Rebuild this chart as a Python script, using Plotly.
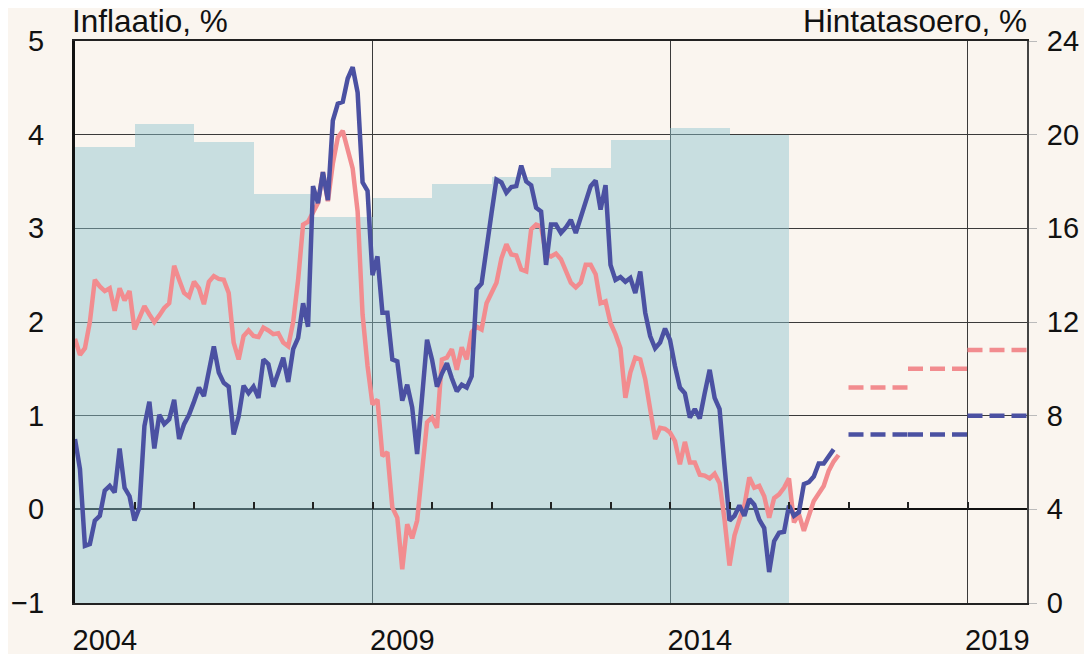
import plotly.graph_objects as go

# ---------------- data ----------------
start_year = 2004
# Finland HICP inflation, %, monthly from Jan 2004 (blue)
fi_inflation = [
    0.75, 0.43, -0.39, -0.37, -0.12, -0.07, 0.20, 0.25, 0.18, 0.65, 0.23, 0.14,
    -0.12, 0.02, 0.89, 1.15, 0.65, 1.01, 0.91, 0.96, 1.17, 0.75, 0.91, 1.01,
    1.15, 1.30, 1.21, 1.50, 1.74, 1.46, 1.35, 1.31, 0.80, 0.99, 1.32, 1.24,
    1.31, 1.19, 1.60, 1.55, 1.31, 1.46, 1.62, 1.36, 1.71, 1.83, 2.20, 1.95,
    3.45, 3.27, 3.60, 3.30, 4.15, 4.33, 4.35, 4.60, 4.72, 4.45, 3.49, 3.40,
    2.50, 2.70, 2.10, 2.10, 1.60, 1.58, 1.16, 1.33, 1.09, 0.59, 1.21, 1.81,
    1.60, 1.31, 1.45, 1.56, 1.40, 1.26, 1.33, 1.30, 1.42, 2.35, 2.41, 2.75,
    3.16, 3.52, 3.49, 3.38, 3.44, 3.45, 3.67, 3.50, 3.46, 3.22, 3.18, 2.61,
    3.04, 3.04, 2.95, 3.01, 3.09, 2.95, 3.13, 3.30, 3.45, 3.51, 3.20, 3.46,
    2.61, 2.45, 2.48, 2.43, 2.47, 2.31, 2.54, 2.10, 1.85, 1.72, 1.78, 1.93,
    1.81, 1.53, 1.30, 1.24, 0.98, 1.07, 0.97, 1.24, 1.49, 1.19, 1.07, 0.46,
    -0.12, -0.07, 0.04, -0.07, 0.11, 0.05, -0.11, -0.20, -0.67, -0.34, -0.25, -0.24,
    0.04, -0.07, -0.03, 0.27, 0.29, 0.35, 0.49, 0.49, 0.56, 0.64,
]
# Euro area HICP inflation, %, monthly from Jan 2004 (pink)
ea_inflation = [
    1.82, 1.65, 1.72, 2.00, 2.45, 2.38, 2.33, 2.36, 2.12, 2.36, 2.23, 2.33,
    1.92, 2.05, 2.17, 2.08, 2.00, 2.07, 2.15, 2.20, 2.60, 2.45, 2.31, 2.27,
    2.43, 2.36, 2.19, 2.43, 2.49, 2.46, 2.45, 2.31, 1.78, 1.60, 1.85, 1.91,
    1.85, 1.84, 1.94, 1.91, 1.87, 1.88, 1.78, 1.74, 2.00, 2.45, 3.04, 3.07,
    3.18, 3.27, 3.60, 3.29, 3.69, 3.97, 4.04, 3.84, 3.64, 3.18, 2.08, 1.53,
    1.12, 1.17, 0.57, 0.61, 0.02, -0.09, -0.64, -0.16, -0.31, -0.12, 0.45, 0.93,
    0.98, 0.87, 1.60, 1.62, 1.71, 1.49, 1.73, 1.60, 1.89, 1.95, 1.92, 2.20,
    2.31, 2.42, 2.68, 2.83, 2.72, 2.71, 2.56, 2.54, 2.99, 3.04, 3.02, 2.72,
    2.70, 2.73, 2.67, 2.54, 2.42, 2.37, 2.42, 2.61, 2.61, 2.51, 2.20, 2.22,
    1.99, 1.87, 1.72, 1.19, 1.46, 1.62, 1.60, 1.39, 1.10, 0.75, 0.87, 0.86,
    0.82, 0.73, 0.48, 0.72, 0.50, 0.50, 0.37, 0.36, 0.33, 0.38, 0.28, -0.11,
    -0.60, -0.28, -0.11, 0.04, 0.34, 0.23, 0.25, 0.14, -0.09, 0.12, 0.16, 0.23,
    0.33, -0.14, -0.05, -0.23, -0.07, 0.09, 0.17, 0.25, 0.41, 0.51, 0.58,
]
# Price level difference (right axis), %, annual
level_years = [2004, 2005, 2006, 2007, 2008, 2009, 2010, 2011, 2012, 2013, 2014, 2015]
level_diff = [19.47, 20.44, 19.70, 17.46, 16.48, 17.29, 17.91, 18.19, 18.57, 19.77, 20.28, 19.98]
# Forecasts (annual averages)
forecast_years = [2017, 2018, 2019]
fi_forecast = [0.8, 0.8, 1.0]
ea_forecast = [1.3, 1.5, 1.7]

year_labels = ["2004", "2009", "2014", "2019"]
left_ticks = [-1, 0, 1, 2, 3, 4, 5]
right_ticks = [0, 4, 8, 12, 16, 20, 24]

# ---------------- style ----------------
BG = "#faf5ef"
BLUE = "#4b51a2"
PINK = "#f28c8f"
BAR = "rgba(139,196,206,0.45)"
GRID = "#3a3a3a"
FONT = "Liberation Sans, Arial, sans-serif"
FS = 29
FS_TITLE = 31.5
LW = 4.5

def month_x(n):
    return [start_year + i / 12 for i in range(n)]

fig = go.Figure()

# price-level bars on right axis (main y)
fig.add_trace(go.Bar(
    x=[y + 0.5 for y in level_years], y=level_diff, width=1,
    marker=dict(color=BAR, line=dict(width=0)),
    xaxis="x", yaxis="y", showlegend=False, hoverinfo="skip",
))

# inflation lines on left axis (y2)
fig.add_trace(go.Scatter(
    x=month_x(len(ea_inflation)), y=ea_inflation, mode="lines",
    line=dict(color=PINK, width=LW), xaxis="x", yaxis="y2",
    name="Euroalue", showlegend=False,
))
fig.add_trace(go.Scatter(
    x=month_x(len(fi_inflation)), y=fi_inflation, mode="lines",
    line=dict(color=BLUE, width=LW), xaxis="x", yaxis="y2",
    name="Suomi", showlegend=False,
))

# forecast dashes (drawn on the overlay x-axis that carries year ticks)
for yr, v in zip(forecast_years, ea_forecast):
    fig.add_trace(go.Scatter(
        x=[yr, yr + 1], y=[v, v], mode="lines",
        line=dict(color=PINK, width=LW, dash="15px,7px"),
        xaxis="x2", yaxis="y2", showlegend=False,
    ))
for yr, v in zip(forecast_years, fi_forecast):
    fig.add_trace(go.Scatter(
        x=[yr, yr + 1], y=[v, v], mode="lines",
        line=dict(color=BLUE, width=LW, dash="15px,7px"),
        xaxis="x2", yaxis="y2", showlegend=False,
    ))

tickfont = dict(family=FONT, size=FS, color="#111")

# the page body has an 8px default margin; size the figure so the plot
# area lands at the reference pixel positions (75..1027 x 41..603)
fig.update_layout(
    width=1084, height=646,
    margin=dict(l=67, r=65, t=33, b=51),
    paper_bgcolor=BG, plot_bgcolor=BG,
    bargap=0,
    xaxis=dict(
        range=[2004, 2020], automargin=False,
        tickvals=[int(s) + 0.5 for s in year_labels], ticktext=year_labels,
        showgrid=False, zeroline=False, ticks="",
        showline=True, mirror=True, linecolor="#222", linewidth=2,
        tickfont=tickfont, ticklabelstandoff=10,
    ),
    xaxis2=dict(
        overlaying="x", matches="x", anchor="free", position=1 / 6,
        side="bottom", showline=False, zeroline=False, automargin=False,
        tickvals=[int(s) for s in year_labels[1:]],
        showgrid=True, gridcolor=GRID, gridwidth=1,
        ticks="inside", ticklen=7, tickwidth=1.5, tickcolor="#222",
        showticklabels=False,
        minor=dict(tickvals=list(range(2005, 2020)), ticks="inside",
                   ticklen=7, tickwidth=1.5, tickcolor="#222", showgrid=False),
    ),
    yaxis=dict(
        range=[0, 24], tickvals=right_ticks, side="right", automargin=False,
        showgrid=True, gridcolor=GRID, gridwidth=1, zeroline=False,
        ticks="outside", ticklen=8, tickcolor="#bbbbbb", tickwidth=1,
        showline=True, linecolor="#444", linewidth=2,
        tickfont=tickfont, ticklabelstandoff=4,
    ),
    yaxis2=dict(
        range=[-1, 5], tickvals=left_ticks, side="left", overlaying="y",
        automargin=False,
        showgrid=False, zeroline=True, zerolinecolor="#111", zerolinewidth=2,
        showline=True, linecolor="#111", linewidth=3, ticks="",
        tickfont=tickfont, ticklabelstandoff=22,
    ),
    annotations=[
        dict(text="Inflaatio, %", xref="paper", yref="paper", x=0, y=1,
             xanchor="left", yanchor="bottom", showarrow=False, xshift=-5,
             font=dict(family=FONT, size=FS_TITLE, color="#111")),
        dict(text="Hintatasoero, %", xref="paper", yref="paper", x=1, y=1,
             xanchor="right", yanchor="bottom", showarrow=False, xshift=2,
             font=dict(family=FONT, size=FS_TITLE, color="#111")),
    ],
)

fig.write_html("out.html")
